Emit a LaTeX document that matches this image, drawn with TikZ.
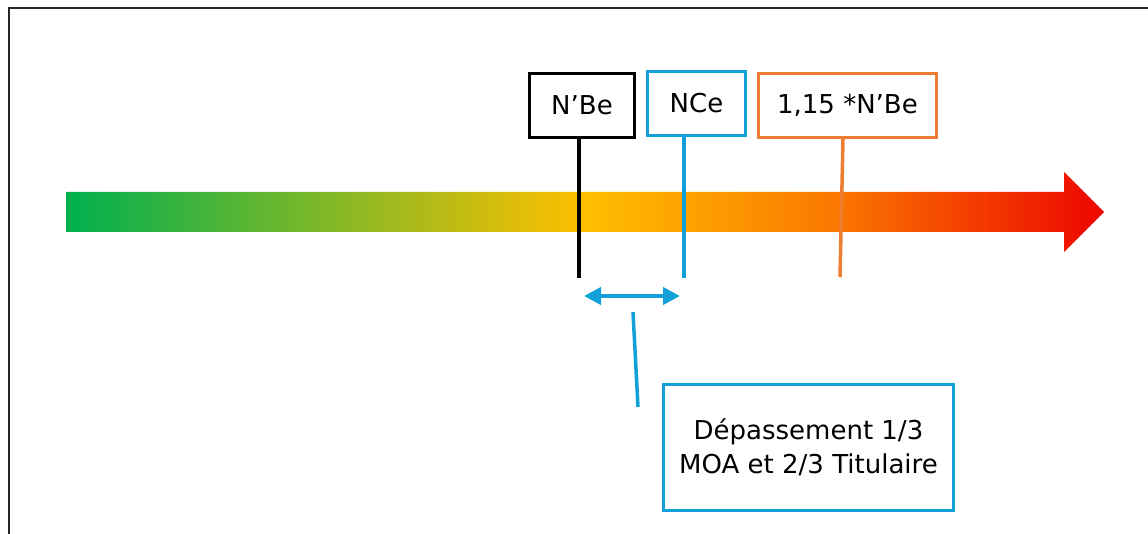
\documentclass[tikz,border=0pt]{standalone}
\usepackage{fontspec}
\setmainfont{DejaVu Sans}
\usetikzlibrary{arrows.meta}

% Verlauf vert -> jaune -> orange -> rouge
\pgfdeclarehorizontalshading{echelle}{100bp}{%
  rgb(0bp)=(0,0.69,0.31); rgb(25bp)=(0,0.69,0.31);
  rgb(50bp)=(1,0.75,0); rgb(62bp)=(0.98,0.47,0);
  rgb(75bp)=(0.93,0.02,0); rgb(100bp)=(0.93,0.02,0)}

\begin{document}
\begin{tikzpicture}[x=1pt,y=-1pt,
    font=\fontsize{26}{34}\selectfont,
    markbox/.style={draw, line width=3pt, minimum height=64pt, inner sep=0pt},
    stem/.style={line width=3.5pt}]
        % Couleurs
        \definecolor{ncblue}{RGB}{18, 160, 216}
        \definecolor{seuilorange}{RGB}{237, 125, 49}

        % Cadre
        \useasboundingbox (0, 0) rectangle (1148, 534);
        \draw[line width=2pt, black!85] (8.5, 540) -- (8.5, 8) -- (1150, 8);

        % Flèche en dégradé
        \shade[shading=echelle] (66, 192) -- (1064, 192) -- (1064, 172) -- (1104, 212)
            -- (1064, 252) -- (1064, 232) -- (66, 232) -- cycle;

        % Étiquettes
        \node[markbox, draw=black, minimum width=105pt] (nbe) at (582, 105.5) {N’Be};
        \node[markbox, draw=ncblue, minimum width=98pt] (nce) at (696.5, 103.5) {NCe};
        \node[markbox, draw=seuilorange, minimum width=178pt] (seuil) at (847.5, 105.5) {1,15 *N’Be};

        % Repères sur la flèche
        \coordinate (nbe-pied) at (579, 278);
        \coordinate (nce-pied) at (684, 278);
        \coordinate (seuil-haut) at (843, 139);
        \coordinate (seuil-pied) at (840, 277);
        \draw[stem, black] (nbe.south -| nbe-pied) -- (nbe-pied);
        \draw[stem, ncblue] (nce.south -| nce-pied) -- (nce-pied);
        \draw[stem, seuilorange] (seuil-haut) -- (seuil-pied);

        % Écart entre N'Be et NCe
        \coordinate (ecart-g) at (584, 296);
        \coordinate (ecart-d) at (680, 296);
        \draw[ncblue, line width=4pt, {Triangle[length=17pt,width=17pt]}-{Triangle[length=17pt,width=17pt]}] (ecart-g) -- (ecart-d);

        % Légende du dépassement
        \node[markbox, draw=ncblue, minimum width=290pt, minimum height=126pt, align=center] (depass) at (808.5, 447.5)
            {Dépassement 1/3\\MOA et 2/3 Titulaire};
        \coordinate (renvoi-haut) at (633, 312);
        \coordinate (renvoi-bas) at (638, 407);
        \draw[stem, ncblue] (renvoi-haut) -- (renvoi-bas);
    \end{tikzpicture}
\end{document}
